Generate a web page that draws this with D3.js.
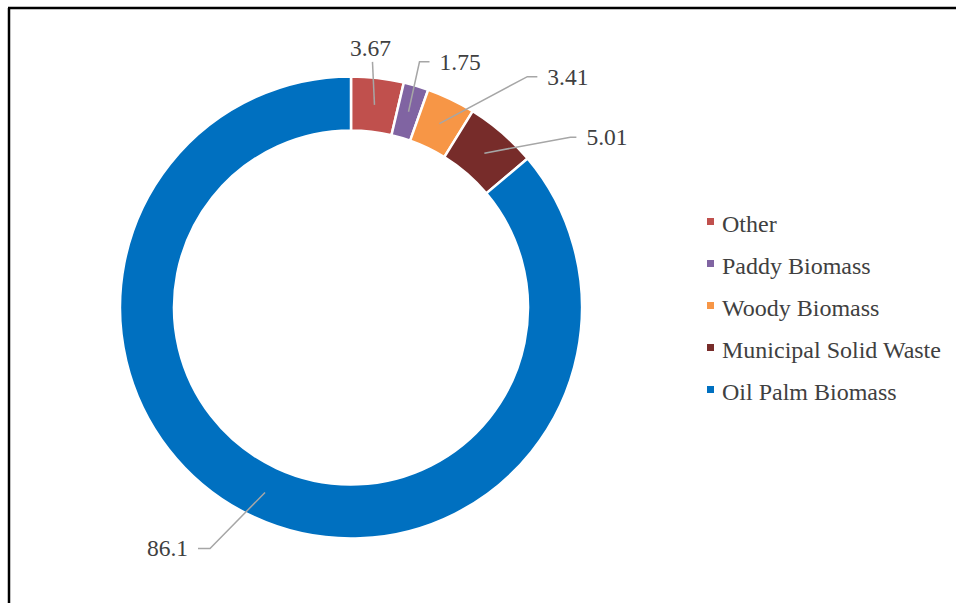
<!DOCTYPE html>
<html>
<head>
<meta charset="utf-8">
<script src="https://cdn.jsdelivr.net/npm/d3@7"></script>
<style>
  html, body { margin: 0; padding: 0; background: #fff; }
  svg { display: block; }
</style>
</head>
<body>
<svg id="chart"></svg>
<script>
// data
const categories = ["Other", "Paddy Biomass", "Woody Biomass", "Municipal Solid Waste", "Oil Palm Biomass"]
const values = [3.67, 1.75, 3.41, 5.01, 86.1]
const valueLabels = ["3.67", "1.75", "3.41", "5.01", "86.1"]
const colors = ["#C0504D", "#8064A2", "#F79646", "#772C2A", "#0070C0"]

// label placement: elbow offset from slice centroid, then horizontal run
const labelLayout = [
  { dx: -2, dy: -43, run: 0, anchor: "middle" },
  { dx: 11, dy: -50, run: 10, anchor: "start" },
  { dx: 88, dy: -47, run: 10, anchor: "start" },
  { dx: 86, dy: -16, run: 6, anchor: "start" },
  { dx: -55, dy: 56, run: -12, anchor: "end" }
]

const width = 956, height = 603
const cx = 351, cy = 307.5
const outerR = 231, innerR = 177
const textColor = '#404040'
const fontFam = 'Liberation Serif'

const svg = d3.select('#chart')
  .attr('width', width)
  .attr('height', height)
  .attr('font-family', fontFam)

// frame (only left and top edges show in the crop)
svg.append('line').attr('x1', 9).attr('y1', 8).attr('x2', 9).attr('y2', height)
  .attr('stroke', '#000').attr('stroke-width', 2.5)
svg.append('line').attr('x1', 8).attr('y1', 8).attr('x2', width).attr('y2', 8)
  .attr('stroke', '#000').attr('stroke-width', 2.5)

const pie = d3.pie().sort(null).value(d => d)
const arcs = pie(values)
const arc = d3.arc().innerRadius(innerR).outerRadius(outerR)
const midArc = d3.arc().innerRadius((innerR + outerR) / 2).outerRadius((innerR + outerR) / 2)

const g = svg.append('g').attr('transform', `translate(${cx},${cy})`)

g.selectAll('path.slice')
  .data(arcs)
  .enter()
  .append('path')
  .attr('class', 'slice')
  .attr('d', arc)
  .attr('fill', (d, i) => colors[i])
  .attr('stroke', '#fff')
  .attr('stroke-width', 2.5)

// leader lines + value labels
arcs.forEach((d, i) => {
  const [x0, y0] = midArc.centroid(d)
  const L = labelLayout[i]
  const x1 = x0 + L.dx, y1 = y0 + L.dy
  const x2 = x1 + L.run
  g.append('polyline')
    .attr('points', [[x0, y0], [x1, y1], [x2, y1]].map(p => p.join(',')).join(' '))
    .attr('fill', 'none')
    .attr('stroke', '#A6A6A6')
    .attr('stroke-width', 1.5)
  const t = g.append('text')
    .attr('font-family', fontFam)
    .attr('font-size', 23.5)
    .attr('fill', textColor)
    .attr('text-anchor', L.anchor)
    .text(valueLabels[i])
  if (L.anchor === 'middle') {
    t.attr('x', x1 - 2).attr('y', y1 - 6)
  } else if (L.anchor === 'start') {
    t.attr('x', x2 + 10).attr('y', y1 + 8)
  } else {
    t.attr('x', x2 - 10).attr('y', y1 + 8)
  }
})

// legend
const legend = svg.append('g').attr('transform', 'translate(707,232)')
const item = legend.selectAll('g')
  .data(categories)
  .enter()
  .append('g')
  .attr('transform', (d, i) => `translate(0,${i * 42})`)
item.append('rect')
  .attr('x', 0).attr('y', -14)
  .attr('width', 7).attr('height', 7)
  .attr('fill', (d, i) => colors[i])
item.append('text')
  .attr('x', 15).attr('y', 0)
  .attr('font-family', fontFam)
  .attr('font-size', 24)
  .attr('fill', textColor)
  .text(d => d)
</script>
</body>
</html>
